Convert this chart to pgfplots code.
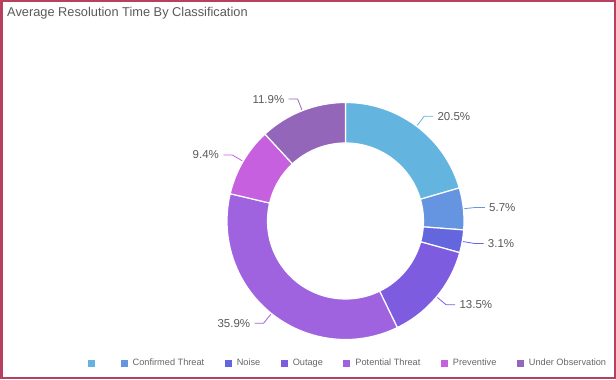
\documentclass[border=0pt]{standalone}
\usepackage{pgfplots}
\pgfplotsset{compat=1.18}
\usepackage{pgfplotstable}
\usepackage{fontspec}
\setmainfont{Liberation Sans}
\definecolor{c1}{HTML}{63B5E0}
\definecolor{c2}{HTML}{6595E0}
\definecolor{c3}{HTML}{6366DC}
\definecolor{c4}{HTML}{7E5CDF}
\definecolor{c5}{HTML}{A063E0}
\definecolor{c6}{HTML}{C660DF}
\definecolor{c7}{HTML}{9366BA}
\definecolor{frame}{HTML}{B8405F}
\definecolor{txt}{HTML}{595959}
\definecolor{legtxt}{HTML}{666666}

\pgfplotstableread{
value color
20.5 c1
5.7 c2
3.1 c3
13.5 c4
35.9 c5
9.4 c6
11.9 c7
}\datatable

\begin{document}
\begin{tikzpicture}
\begin{axis}[
  x=1bp, y=1bp,
  xmin=0, xmax=616, ymin=0, ymax=379,
  hide axis, clip=false,
  legend image code/.code={\fill[#1] (0bp,-3.5bp) rectangle (7bp,3.5bp);},
  legend columns=-1,
  legend style={
    at={(axis cs:85,16)}, anchor=west,
    draw=none, fill=none,
    font=\fontsize{9.2bp}{10bp}\selectfont,
    text=legtxt,
    nodes={inner xsep=5bp, inner ysep=0pt},
    /tikz/every even column/.append style={column sep=15.5bp},
  },
]
\draw[frame, line width=2.5bp] (axis cs:1.25,1.25) rectangle (axis cs:614.75,377.75);
\node[anchor=west, text=txt, font=\fontsize{12.8bp}{14bp}\selectfont, inner sep=0pt] at (axis cs:7,366) {Average Resolution Time By Classification};

\pgfplotstablegetrowsof{\datatable}
\pgfmathtruncatemacro{\nrows}{\pgfplotsretval-1}
\def\cum{0}
\pgfplotsforeachungrouped \i in {0,...,\nrows}{
  \pgfplotstablegetelem{\i}{value}\of{\datatable}\let\val\pgfplotsretval
  \pgfplotstablegetelem{\i}{color}\of{\datatable}\let\col\pgfplotsretval
  \pgfmathsetmacro{\angA}{90-3.6*\cum}
  \pgfmathsetmacro{\angB}{90-3.6*(\cum+\val)}
  \pgfmathsetmacro{\angM}{(\angA+\angB)/2}
  \pgfmathsetmacro{\cum}{\cum+\val}
  \pgfmathtruncatemacro{\isright}{cos(\angM)>0}
  \ifnum\isright=1 \def\anc{west}\def\dx{9bp}\else\def\anc{east}\def\dx{-9bp}\fi
  \edef\slice{\noexpand\fill[\col, draw=white, line width=1.2bp]
    ([shift={(\angA:118.5bp)}]axis cs:345.5,158)
    arc[start angle=\angA, end angle=\angB, radius=118.5bp]
    -- ([shift={(\angB:78bp)}]axis cs:345.5,158)
    arc[start angle=\angB, end angle=\angA, radius=78bp] -- cycle;
    \noexpand\draw[\col, line width=0.8bp]
    ([shift={(\angM:119.5bp)}]axis cs:345.5,158)
    .. controls ([shift={(\angM:131bp)}]axis cs:345.5,158) ..
    ([shift={(\angM:131bp)}]axis cs:345.5,158) -- ++(\dx,0)
    node[anchor=\anc, text=txt, inner xsep=4bp, font=\noexpand\fontsize{11.5bp}{13bp}\noexpand\selectfont] {\val\noexpand\%};
  }
  \slice
}

\addlegendimage{fill=c1, draw=none}\addlegendentry{}
\addlegendimage{fill=c2, draw=none}\addlegendentry{Confirmed Threat}
\addlegendimage{fill=c3, draw=none}\addlegendentry{Noise}
\addlegendimage{fill=c4, draw=none}\addlegendentry{Outage}
\addlegendimage{fill=c5, draw=none}\addlegendentry{Potential Threat}
\addlegendimage{fill=c6, draw=none}\addlegendentry{Preventive}
\addlegendimage{fill=c7, draw=none}\addlegendentry{Under Observation}
\end{axis}
\end{tikzpicture}
\end{document}
